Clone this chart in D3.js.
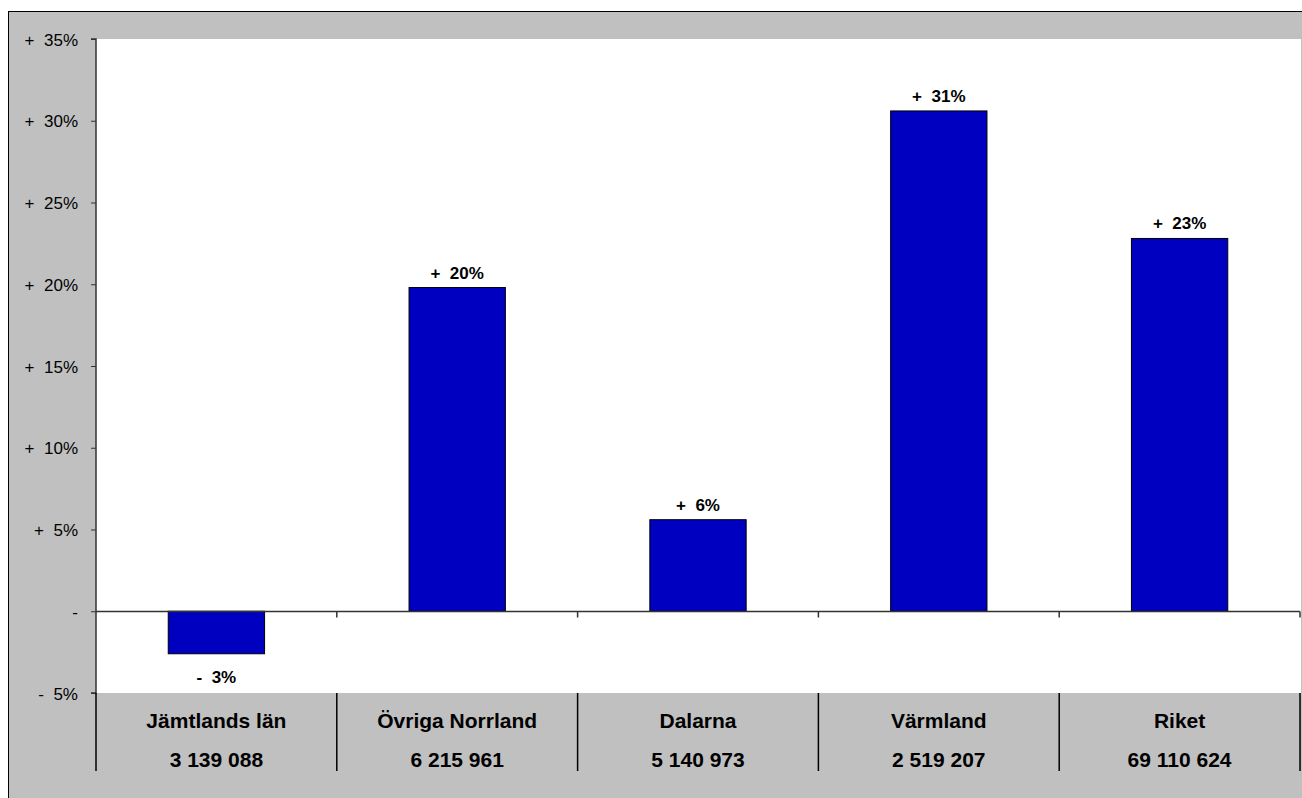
<!DOCTYPE html>
<html><head><meta charset="utf-8">
<script src="https://cdn.jsdelivr.net/npm/d3@7"></script>
<style>body{margin:0;background:#fff;overflow:hidden}svg{display:block;font-family:"Liberation Sans",Arial,sans-serif}</style>
</head><body>
<svg id="c" width="1302" height="798"></svg>
<script>
const categories = ["Jämtlands län","Övriga Norrland","Dalarna","Värmland","Riket"];
const totals = ["3 139 088","6 215 961","5 140 973","2 519 207","69 110 624"];
const changes = [-2.6, 19.8, 5.6, 30.6, 22.8];
const yTicks = [-5,0,5,10,15,20,25,30,35];

(function(){
const svg = d3.select("#c");
const pL = 96, pR = 1300, pT = 39, pB = 693;
const fmt = v => v === 0 ? "-" : (v > 0 ? "+  " : "-  ") + Math.abs(v) + "%";
const fmtLbl = v => (v > 0 ? "+  " : "-  ") + Math.round(Math.abs(v)) + "%";

// frame
svg.append("rect").attr("x",8.5).attr("y",11.5).attr("width",1310).attr("height",800)
  .attr("fill","#c0c0c0").attr("stroke","#000").attr("stroke-width",1);

const y = d3.scaleLinear().domain([-5,35]).range([pB, pT]);
const x = d3.scaleBand().domain(categories).range([pL, pR]).paddingInner(0).paddingOuter(0);

// plot area
svg.append("rect").attr("x",pL).attr("y",pT).attr("width",pR-pL+1).attr("height",pB-pT).attr("fill","#fff");

// y axis
const yAxis = d3.axisLeft(y).tickValues(yTicks).tickSize(5).tickPadding(13).tickFormat(fmt);
const ga = svg.append("g").attr("transform",`translate(${pL},0)`).call(yAxis);
ga.attr("font-size",17).attr("font-family","Liberation Sans, Arial, sans-serif");
ga.select(".domain").attr("stroke","#333").attr("stroke-width",1.5).attr("d",`M-5,${pT}H0V${pB}H-5`);
ga.selectAll(".tick line").attr("stroke","#333");
ga.selectAll(".tick text").attr("fill","#000").attr("dy","0.36em").style("white-space","pre");

// bars
svg.append("g").selectAll("rect").data(changes).join("rect")
  .attr("x",(d,i)=>x(categories[i]) + x.bandwidth()*0.3)
  .attr("width",x.bandwidth()*0.4)
  .attr("y",d=>y(Math.max(0,d)))
  .attr("height",d=>Math.abs(y(d)-y(0)))
  .attr("fill","#0000c0").attr("stroke","#000").attr("stroke-width",1);

// zero line with ticks at boundaries
const y0 = Math.round(y(0))+0.5;
svg.append("line").attr("x1",pL).attr("x2",pR).attr("y1",y0).attr("y2",y0).attr("stroke","#333").attr("stroke-width",1.5);
const bounds = categories.map(c=>x(c)).concat([pR]);
svg.append("g").selectAll("line").data(bounds.slice(1)).join("line")
  .attr("x1",d=>d).attr("x2",d=>d).attr("y1",y0).attr("y2",y0+6).attr("stroke","#333").attr("stroke-width",1.5);

// value labels
svg.append("g").selectAll("text").data(changes).join("text")
  .attr("x",(d,i)=>x(categories[i])+x.bandwidth()/2)
  .attr("y",d=> d>=0 ? y(d)-9 : y(d)+29)
  .attr("text-anchor","middle").attr("font-size",17).attr("font-weight","bold")
  .style("white-space","pre").text(fmtLbl);

// table
svg.append("g").selectAll("line").data(bounds).join("line")
  .attr("x1",d=>d).attr("x2",d=>d).attr("y1",pB).attr("y2",771).attr("stroke","#000").attr("stroke-width",1.5);
svg.append("g").selectAll("text").data(categories).join("text")
  .attr("x",d=>x(d)+x.bandwidth()/2).attr("y",728)
  .attr("text-anchor","middle").attr("font-size",21).attr("font-weight","bold").text(d=>d);
svg.append("g").selectAll("text").data(totals).join("text")
  .attr("x",(d,i)=>x(categories[i])+x.bandwidth()/2).attr("y",767)
  .attr("text-anchor","middle").attr("font-size",21).attr("font-weight","bold").text(d=>d);
})();
</script>
</body></html>
